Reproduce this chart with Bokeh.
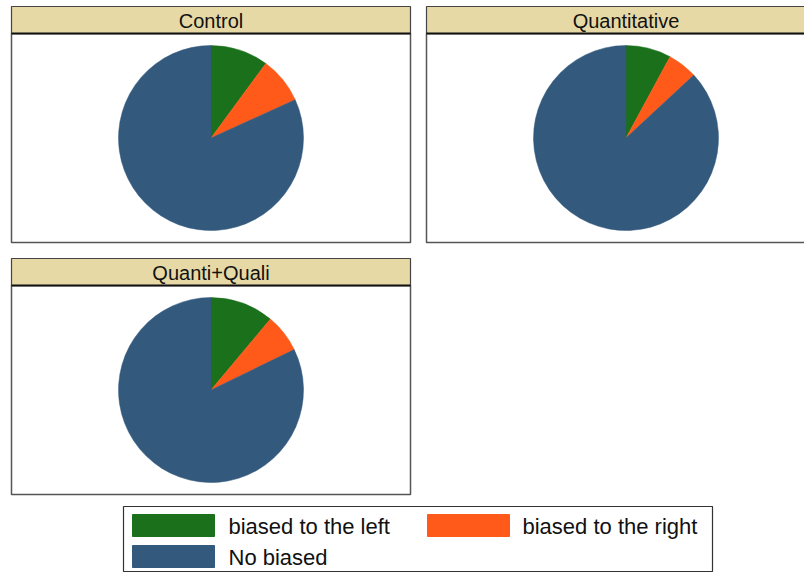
import math
from bokeh.plotting import figure
from bokeh.models import Range1d
from bokeh.core.properties import value
from bokeh.embed import file_html
from bokeh.resources import INLINE

# ---- data ----
groups = ["Control", "Quantitative", "Quanti+Quali"]
categories = ["biased to the left", "biased to the right", "No biased"]
biased_left = [10.1, 7.9, 11.1]
biased_right = [8.1, 5.2, 6.7]
no_biased = [81.8, 86.9, 82.2]
colors = ["#1b701b", "#ff5a1a", "#33597d"]

# ---- layout (screenshot pixel coordinates) ----
W, H = 804, 572
def X(px):
    return px
def Y(py):
    return H - py

p = figure(width=W, height=H, output_backend="svg", toolbar_location=None,
           x_range=Range1d(0, W), y_range=Range1d(0, H),
           min_border=0, outline_line_color=None)
p.axis.visible = False
p.grid.visible = False
p.background_fill_color = "white"
p.border_fill_color = "white"

panel_origins = [(11, 6), (426, 6), (11, 258)]
panel_w, strip_h, plot_h = 399, 27, 209
radius = 92.5
font = value("Liberation Sans")

for gi, g in enumerate(groups):
    left, top = panel_origins[gi]
    # plot frame
    p.quad(left=[X(left)], right=[X(left + panel_w)],
           top=[Y(top + strip_h)], bottom=[Y(top + strip_h + plot_h)],
           fill_color="white", line_color="#555555", line_width=1.5)
    # strip
    p.quad(left=[X(left)], right=[X(left + panel_w)],
           top=[Y(top)], bottom=[Y(top + strip_h)],
           fill_color="#e6d9a5", line_color="#444444", line_width=1.2)
    p.line(x=[X(left), X(left + panel_w)], y=[Y(top + strip_h)] * 2,
           line_color="#111111", line_width=2)
    p.text(x=[X(left + panel_w / 2)], y=[Y(top + strip_h / 2 + 0.5)], text=[g],
           text_font=font, text_font_size="20px", text_align="center",
           text_baseline="middle", text_color="#111111")
    # pie
    cx = X(left + panel_w / 2)
    cy = Y(top + strip_h + plot_h / 2)
    vals = [biased_left[gi], biased_right[gi], no_biased[gi]]
    total = sum(vals)
    cum = 0.0
    for v, c in zip(vals, colors):
        a0 = math.pi / 2 - 2 * math.pi * cum / total
        cum += v
        a1 = math.pi / 2 - 2 * math.pi * cum / total
        p.wedge(x=[cx], y=[cy], radius=radius, start_angle=a0, end_angle=a1,
                direction="clock", fill_color=c, line_color=c, line_width=0.5)

# ---- legend ----
p.quad(left=[X(123)], right=[X(712)], top=[Y(506)], bottom=[Y(571)],
       fill_color="white", line_color="#333333", line_width=1.2)
legend_pos = [(132, 514, 228, 525.5), (427, 514, 522, 525.5), (132, 545, 228, 556.5)]
for (bx, by, tx, ty), lab, c in zip(legend_pos, categories, colors):
    p.quad(left=[X(bx)], right=[X(bx + 82)], top=[Y(by)], bottom=[Y(by + 22)],
           fill_color=c, line_color=c)
    p.text(x=[X(tx)], y=[Y(ty)], text=[lab], text_font=font,
           text_font_size="22px", text_align="left", text_baseline="middle",
           text_color="#111111")

open("out.html", "w").write(file_html(p, INLINE))
